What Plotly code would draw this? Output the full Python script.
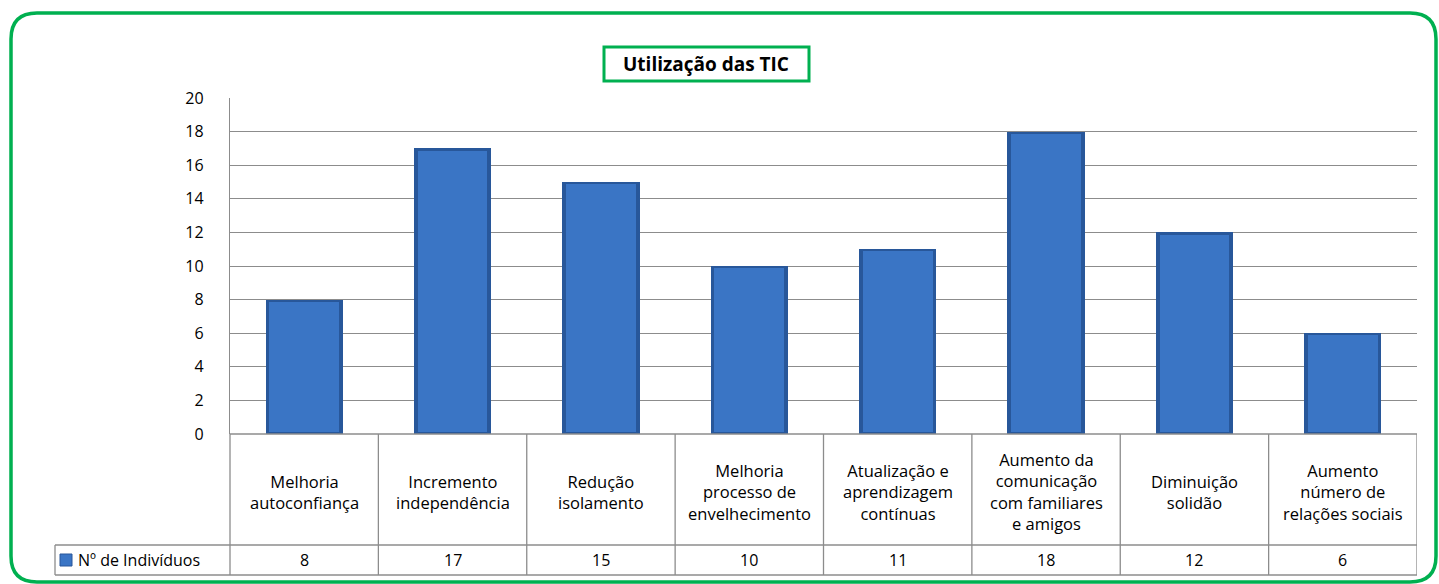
# recreate the "Utilização das TIC" excel-style column chart with its data table

import plotly.graph_objects as go

categories = ['Melhoria<br>autoconfiança', 'Incremento<br>independência', 'Redução<br>isolamento',
              'Melhoria<br>processo de<br>envelhecimento', 'Atualização e<br>aprendizagem<br>contínuas',
              'Aumento da<br>comunicação<br>com familiares<br>e amigos', 'Diminuição<br>solidão',
              'Aumento<br>número de<br>relações sociais']
values = [8, 17, 15, 10, 11, 18, 12, 6]
series_name = 'Nº de Indivíduos'
title_text = 'Utilização das TIC'

W, H = 1439, 584
L, R, T, B = 230, 1417, 98, 434  # plot area in pixels

def px(x):
    '''pixel x -> paper x'''
    return (x - L) / (R - L)

def py(y):
    '''pixel y -> paper y'''
    return (B - y) / (B - T)

FONT = 'Open Sans'
GRID = '#8c8c8c'
GREEN = '#00b050'

xs = list(range(len(values)))
fig = go.Figure()
# darker outer bar gives the bevelled edge, lighter inner bar the face
fig.add_trace(go.Bar(x=xs, y=values, width=0.52,
                     marker=dict(color='#28579a', line=dict(width=0)),
                     showlegend=False, hoverinfo='skip'))
fig.add_trace(go.Bar(x=xs, y=[v - 0.25 for v in values], base=0.12, width=0.47,
                     marker=dict(color='#3a75c5', line=dict(width=0)),
                     showlegend=False, name=series_name))

shapes = []
# outer green rounded frame
x0, x1, y0, y1, r = 11, 1436, 13, 582, 26
path = (f'M {px(x0+r)},{py(y0)} L {px(x1-r)},{py(y0)} Q {px(x1)},{py(y0)} {px(x1)},{py(y0+r)} '
        f'L {px(x1)},{py(y1-r)} Q {px(x1)},{py(y1)} {px(x1-r)},{py(y1)} '
        f'L {px(x0+r)},{py(y1)} Q {px(x0)},{py(y1)} {px(x0)},{py(y1-r)} '
        f'L {px(x0)},{py(y0+r)} Q {px(x0)},{py(y0)} {px(x0+r)},{py(y0)} Z')
shapes.append(dict(type='path', path=path, xref='paper', yref='paper',
                   line=dict(color=GREEN, width=3.5), layer='below'))
# title box
shapes.append(dict(type='rect', xref='paper', yref='paper', x0=px(604), x1=px(809), y0=py(47), y1=py(81),
                   line=dict(color=GREEN, width=3), fillcolor='white'))

# data table lines
row1, row2 = 545, 575
tline = dict(color=GRID, width=1.3)
shapes.append(dict(type='line', xref='paper', yref='paper', x0=0, x1=1, y0=py(B), y1=py(B), line=tline))
shapes.append(dict(type='line', xref='paper', yref='paper', x0=px(55), x1=1, y0=py(row1), y1=py(row1), line=tline))
shapes.append(dict(type='line', xref='paper', yref='paper', x0=px(55), x1=1, y0=py(row2), y1=py(row2), line=tline))
shapes.append(dict(type='line', xref='paper', yref='paper', x0=px(55), x1=px(55), y0=py(row1), y1=py(row2), line=tline))
shapes.append(dict(type='line', xref='paper', yref='paper', x0=0, x1=0, y0=py(B), y1=py(row2), line=tline))
for i in xs:
    shapes.append(dict(type='line', xref='x', yref='paper', x0=i + 0.5, x1=i + 0.5,
                       y0=py(B), y1=py(row2), line=tline))

annotations = []
annotations.append(dict(text=f'<b>{title_text}</b>', x=px(706), y=py(64), xref='paper', yref='paper',
                        xanchor='center', yanchor='middle',
                        showarrow=False, font=dict(family=FONT, size=19, color='black')))
for i, (c, v) in zip(xs, zip(categories, values)):
    annotations.append(dict(text=c, x=i, y=py((B + row1) / 2 + 2), xref='x', yref='paper', showarrow=False,
                            xanchor='center', yanchor='middle',
                            font=dict(family=FONT, size=16.5, color='black'), align='center'))
    annotations.append(dict(text=str(v), x=i, y=py((row1 + row2) / 2), xref='x', yref='paper', showarrow=False,
                            xanchor='center', yanchor='middle',
                            font=dict(family=FONT, size=16, color='black')))
# legend key in the table
shapes.append(dict(type='rect', xref='paper', yref='paper', x0=px(60), x1=px(72), y0=py(554), y1=py(566),
                   line=dict(color='#28579a', width=1), fillcolor='#3a75c5'))
annotations.append(dict(text=series_name, x=px(76), y=py(560), xref='paper', yref='paper',
                        xanchor='left', yanchor='middle',
                        showarrow=False, font=dict(family=FONT, size=16, color='black')))

fig.update_layout(
    width=W, height=H,
    margin=dict(l=L, r=W - R, t=T, b=H - B),
    paper_bgcolor='white', plot_bgcolor='white',
    barmode='overlay', bargap=0,
    showlegend=False,
    shapes=shapes, annotations=annotations,
    xaxis=dict(range=[-0.5, len(values) - 0.5], showticklabels=False, showgrid=False,
               zeroline=False, showline=False, fixedrange=True),
    yaxis=dict(range=[0, 20], dtick=2, showgrid=True, gridcolor=GRID, gridwidth=1,
               zeroline=False, showline=True, linecolor=GRID, linewidth=1.3,
               ticks='', ticklabelstandoff=22,
               tickfont=dict(family=FONT, size=16, color='black')),
)

# the default page has an 8px body margin; drop it so the chart fills the window
fig.write_html('out.html', config={'displayModeBar': False},
               post_script="document.body.style.margin='0px';")
